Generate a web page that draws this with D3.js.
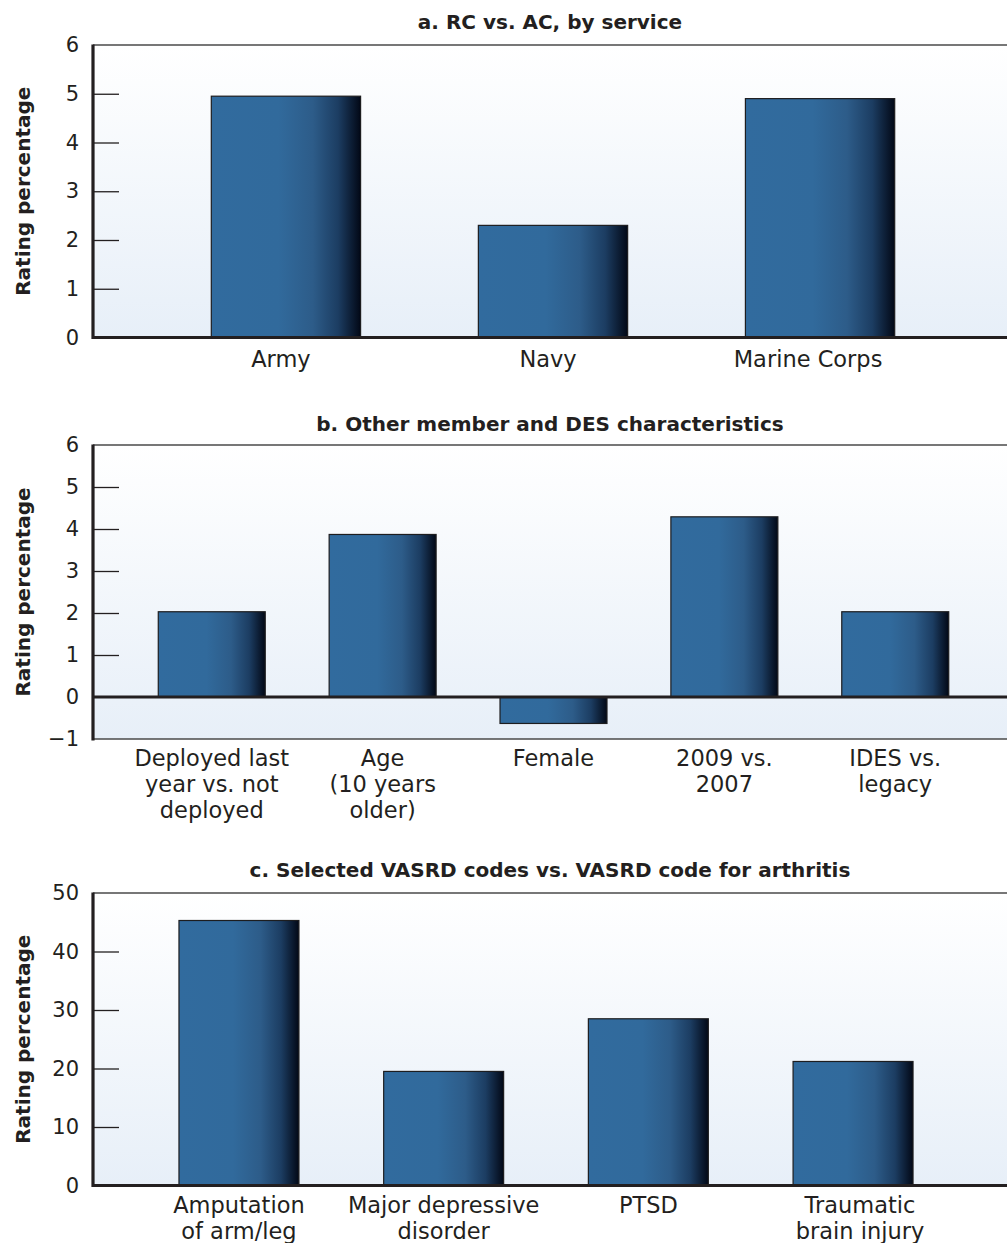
<!DOCTYPE html>
<html>
<head>
<meta charset="utf-8">
<script src="https://cdn.jsdelivr.net/npm/d3@7"></script>
<style>
  html, body { margin: 0; padding: 0; background: #ffffff; }
  svg { display: block; }
  text { font-family: "DejaVu Sans", "Liberation Sans", Arial, sans-serif; fill: #231f20; }
</style>
</head>
<body>
<svg id="chart" width="1007" height="1243"></svg>
<script>
// ---- Data ----
const titleA = "a. RC vs. AC, by service";
const categoriesA = [["Army"], ["Navy"], ["Marine Corps"]];
const valuesA = [4.95, 2.30, 4.90];
const ticksA = [0, 1, 2, 3, 4, 5, 6];

const titleB = "b. Other member and DES characteristics";
const categoriesB = [["Deployed last", "year vs. not", "deployed"], ["Age", "(10 years", "older)"], ["Female"], ["2009 vs.", "2007"], ["IDES vs.", "legacy"]];
const valuesB = [2.03, 3.87, -0.63, 4.29, 2.03];
const ticksB = [-1, 0, 1, 2, 3, 4, 5, 6];

const titleC = "c. Selected VASRD codes vs. VASRD code for arthritis";
const categoriesC = [["Amputation", "of arm/leg"], ["Major depressive", "disorder"], ["PTSD"], ["Traumatic", "brain injury"]];
const valuesC = [45.3, 19.5, 28.5, 21.2];
const ticksC = [0, 10, 20, 30, 40, 50];

const yLabel = "Rating percentage";

// ---- Layout ----
const svg = d3.select("#chart");
const defs = svg.append("defs");

const bg = defs.append("linearGradient").attr("id", "bgGrad")
  .attr("x1", 0).attr("y1", 0).attr("x2", 0).attr("y2", 1);
bg.append("stop").attr("offset", "0%").attr("stop-color", "#ffffff");
bg.append("stop").attr("offset", "100%").attr("stop-color", "#e7eff8");

const bar = defs.append("linearGradient").attr("id", "barGrad")
  .attr("x1", 0).attr("y1", 0).attr("x2", 1).attr("y2", 0);
[["0%", "#316b9e"], ["45%", "#316a9c"], ["68%", "#2d5c89"], ["85%", "#1c3d62"], ["100%", "#020816"]]
  .forEach(([o, c]) => bar.append("stop").attr("offset", o).attr("stop-color", c));

const panels = [
  { title: titleA, cats: categoriesA, vals: valuesA, ticks: ticksA, labelDx: [-5, -5, -12],
    top: 45, bottom: 337.5, titleY: 29, labelY: 367, xEnd: 1013, pin: 0.441, pout: 0.443 },
  { title: titleB, cats: categoriesB, vals: valuesB, ticks: ticksB, labelDx: [0, 0, 0, 0, 0],
    top: 445, bottom: 739, titleY: 431, labelY: 766, xEnd: 1014, pin: 0.374, pout: 0.382 },
  { title: titleC, cats: categoriesC, vals: valuesC, ticks: ticksC, labelDx: [0, 0, 0, 7],
    top: 893, bottom: 1185.5, titleY: 877, labelY: 1213, xEnd: 999, pin: 0.414, pout: 0.42 }
];

const left = 93, plotRight = 1013;

panels.forEach(p => {
  const g = svg.append("g");
  const dom = d3.extent(p.ticks);
  const y = d3.scaleLinear().domain(dom).range([p.bottom, p.top]);
  const x = d3.scaleBand().domain(d3.range(p.cats.length))
    .range([left, p.xEnd]).paddingInner(p.pin).paddingOuter(p.pout);

  // background
  g.append("rect").attr("x", left).attr("y", p.top)
    .attr("width", plotRight - left).attr("height", p.bottom - p.top)
    .attr("fill", "url(#bgGrad)");

  // top border
  g.append("line").attr("x1", left).attr("x2", plotRight)
    .attr("y1", p.top).attr("y2", p.top)
    .attr("stroke", "#4a4a4a").attr("stroke-width", 1.3);
  if (dom[0] < 0) {
    g.append("line").attr("x1", left).attr("x2", plotRight)
      .attr("y1", p.bottom).attr("y2", p.bottom)
      .attr("stroke", "#4a4a4a").attr("stroke-width", 1.3);
  }

  // bars
  g.selectAll("rect.bar").data(p.vals).join("rect").attr("class", "bar")
    .attr("x", (d, i) => x(i))
    .attr("y", d => y(Math.max(0, d)))
    .attr("width", x.bandwidth())
    .attr("height", d => Math.abs(y(d) - y(0)))
    .attr("fill", "url(#barGrad)")
    .attr("stroke", "#1d1d1f").attr("stroke-width", 1.2);

  // zero line
  g.append("line").attr("x1", left).attr("x2", plotRight)
    .attr("y1", y(0)).attr("y2", y(0))
    .attr("stroke", "#231f20").attr("stroke-width", 3.2);

  // y axis
  const axis = d3.axisLeft(y).tickValues(p.ticks).tickSizeInner(-26).tickSizeOuter(0)
    .tickPadding(14).tickFormat(d => d < 0 ? "\u2212" + Math.abs(d) : d);
  const ag = g.append("g").attr("transform", `translate(${left},0)`).call(axis);
  ag.select(".domain").remove();
  ag.selectAll(".tick line").attr("stroke", "#231f20").attr("stroke-width", 1.3)
    .attr("display", d => (d === dom[0] || d === dom[1] || d === 0) ? "none" : null);
  ag.selectAll(".tick text").attr("font-size", 21).attr("fill", "#231f20")
    .style("font-family", "'DejaVu Sans', 'Liberation Sans', sans-serif");

  g.append("line").attr("x1", left).attr("x2", left)
    .attr("y1", p.top - 0.6).attr("y2", p.bottom + 1.6)
    .attr("stroke", "#231f20").attr("stroke-width", 3.2);

  // category labels
  g.selectAll("text.cat").data(p.cats).join("text").attr("class", "cat")
    .attr("text-anchor", "middle").attr("font-size", 22.5)
    .each(function(lines, i) {
      const t = d3.select(this);
      lines.forEach((ln, k) => {
        t.append("tspan").attr("x", x(i) + x.bandwidth() / 2 + p.labelDx[i])
          .attr("y", p.labelY + k * 26).text(ln);
      });
    });

  // title
  g.append("text").attr("x", (left + 1007) / 2).attr("y", p.titleY)
    .attr("text-anchor", "middle").attr("font-size", 20).attr("font-weight", "bold")
    .text(p.title);

  // y label
  g.append("text")
    .attr("transform", `translate(29.5,${(p.top + p.bottom) / 2}) rotate(-90)`)
    .attr("text-anchor", "middle").attr("font-size", 20).attr("font-weight", "bold")
    .text(yLabel);
});
</script>
</body>
</html>
